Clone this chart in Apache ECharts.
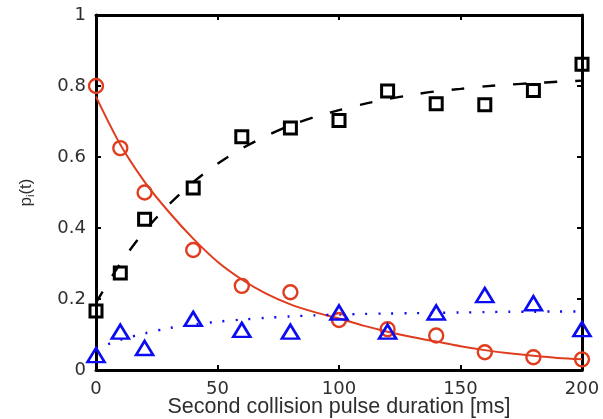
<!DOCTYPE html>
<html>
<head>
<meta charset="utf-8">
<script src="https://cdn.jsdelivr.net/npm/echarts@6/dist/echarts.min.js"></script>
<style>
  html, body { margin: 0; padding: 0; background: #fff; }
  #main { width: 603px; height: 419px; }
</style>
</head>
<body>
<div id="main"></div>
<script>
// measured points (ms)
var pulseMs = [0, 10, 20, 40, 60, 80, 100, 120, 140, 160, 180, 200];
var blackSq = [0.166, 0.273, 0.425, 0.513, 0.657, 0.682, 0.703, 0.786, 0.750, 0.747, 0.787, 0.861];
var redCirc = [0.800, 0.625, 0.500, 0.338, 0.237, 0.219, 0.141, 0.115, 0.097, 0.050, 0.036, 0.030];
var blueTri = [0.042, 0.108, 0.062, 0.144, 0.113, 0.108, 0.162, 0.108, 0.162, 0.211, 0.188, 0.115];

// fit curves, every 10 ms
var fitMs = [0, 10, 20, 30, 40, 50, 60, 70, 80, 90, 100, 110, 120, 130, 140, 150, 160, 170, 180, 190, 200];
var blackFit = [0.19, 0.300, 0.391, 0.466, 0.529, 0.581, 0.624, 0.659, 0.689, 0.713, 0.732, 0.749, 0.763, 0.775, 0.785, 0.792, 0.799, 0.804, 0.808, 0.812, 0.815];
var redFit = [0.77, 0.635, 0.53, 0.445, 0.37, 0.305, 0.255, 0.215, 0.185, 0.163, 0.145, 0.125, 0.108, 0.093, 0.080, 0.067, 0.056, 0.047, 0.040, 0.034, 0.030];
var blueFit = [0.06, 0.085, 0.103, 0.118, 0.128, 0.136, 0.142, 0.147, 0.151, 0.154, 0.156, 0.158, 0.159, 0.160, 0.161, 0.162, 0.163, 0.164, 0.164, 0.165, 0.165];

var xTicks = [0, 50, 100, 150, 200];
var yTicks = [0, 0.2, 0.4, 0.6, 0.8, 1];

var RED = '#e03d1f';
var BLUE = '#0c0cf2';
var TXT = '#2e2e2e';

function zip(xs, ys) {
  return xs.map(function (x, i) { return [x, ys[i]]; });
}

var chart = echarts.init(document.getElementById('main'), null, { renderer: 'canvas' });

var axisLine = { show: true, onZero: false, lineStyle: { color: '#000', width: 3 } };
var tickIn = { show: true, inside: true, length: 5, lineStyle: { color: '#000', width: 2 } };
var labelStyle = { color: TXT, fontSize: 18, fontFamily: 'DejaVu Sans' };

var option = {
  animation: false,
  backgroundColor: '#fff',
  grid: { left: 96, right: 21, top: 15, bottom: 49, containLabel: false, outerBoundsMode: 'none' },
  xAxis: [{
    type: 'value', min: xTicks[0], max: xTicks[xTicks.length - 1], interval: 50,
    position: 'bottom',
    axisLine: axisLine, axisTick: tickIn, splitLine: { show: false },
    axisLabel: Object.assign({ margin: 10 }, labelStyle),
    name: 'Second collision pulse duration [ms]',
    nameLocation: 'middle', nameGap: 26, nameMoveOverlap: false,
    nameTextStyle: { color: TXT, fontSize: 21.5, fontFamily: 'Liberation Sans' }
  }, {
    type: 'value', min: xTicks[0], max: xTicks[xTicks.length - 1], interval: 50,
    position: 'top',
    axisLine: axisLine, axisTick: tickIn, splitLine: { show: false },
    axisLabel: { show: false }
  }],
  yAxis: [{
    type: 'value', min: yTicks[0], max: yTicks[yTicks.length - 1], interval: 0.2,
    position: 'left',
    axisLine: axisLine, axisTick: tickIn, splitLine: { show: false },
    axisLabel: Object.assign({ margin: 10 }, labelStyle),
    name: '{p|p}{s|i}{p|(t)}',
    nameLocation: 'middle', nameGap: 60, nameRotate: 90, nameMoveOverlap: false,
    nameTextStyle: {
      rich: {
        p: { color: TXT, fontSize: 17, fontFamily: 'Liberation Sans' },
        s: { color: TXT, fontSize: 11, fontFamily: 'Liberation Sans', padding: [8, 0, 0, 0] }
      }
    }
  }, {
    type: 'value', min: yTicks[0], max: yTicks[yTicks.length - 1], interval: 0.2,
    position: 'right',
    axisLine: axisLine, axisTick: tickIn, splitLine: { show: false },
    axisLabel: { show: false }
  }],
  series: [{
    type: 'line', data: zip(fitMs, redFit), showSymbol: false, smooth: 0.3,
    lineStyle: { color: RED, width: 2 }, z: 2
  }, {
    type: 'line', data: zip(fitMs, blackFit), showSymbol: false, smooth: 0.3,
    lineStyle: { color: '#000', width: 2.4, type: [13, 18] }, z: 2
  }, {
    type: 'line', data: zip(fitMs, blueFit), showSymbol: false, smooth: 0.3,
    lineStyle: { color: BLUE, width: 2.4, type: [2, 11] }, z: 2
  }, {
    type: 'scatter', data: zip(pulseMs, blackSq), symbol: 'rect', symbolSize: 12,
    itemStyle: { color: 'rgba(0,0,0,0)', borderColor: '#000', borderWidth: 3, opacity: 1 }, z: 3
  }, {
    type: 'scatter', data: zip(pulseMs, redCirc), symbol: 'circle', symbolSize: 14,
    itemStyle: { color: 'rgba(0,0,0,0)', borderColor: RED, borderWidth: 2.4, opacity: 1 }, z: 3
  }, {
    type: 'scatter', data: zip(pulseMs, blueTri), symbol: 'triangle', symbolSize: [17, 14],
    itemStyle: { color: 'rgba(0,0,0,0)', borderColor: BLUE, borderWidth: 2.6, opacity: 1 }, z: 3
  }]
};

chart.setOption(option);
</script>
</body>
</html>
